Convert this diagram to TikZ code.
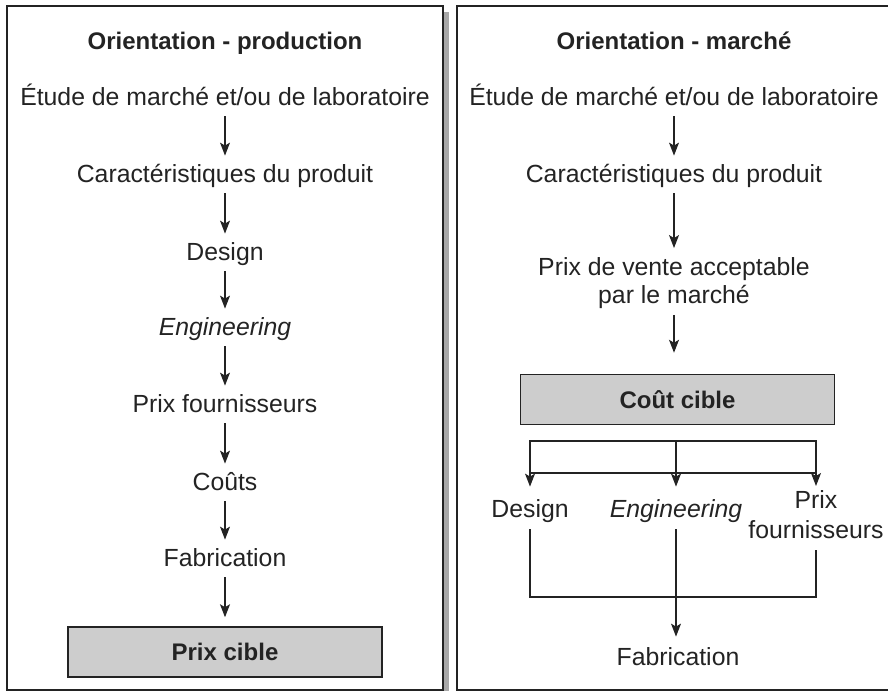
\documentclass[tikz,border=0pt]{standalone}
\usepackage{fontspec}
\setmainfont{Liberation Sans}
\usetikzlibrary{positioning,arrows.meta,calc}
\definecolor{inkgray}{RGB}{35,35,35}
\definecolor{boxgray}{RGB}{205,205,205}
\definecolor{shadowgray}{RGB}{168,168,168}

\begin{document}
\begin{tikzpicture}[x=0.5pt,y=-0.5pt,
  every node/.style={font=\fontsize{12.4}{15}\selectfont, text=inkgray, inner sep=0pt},
  stage/.style={anchor=base, text height=8.5pt, text depth=2.5pt},
  heading/.style={anchor=base, font=\fontsize{12}{15}\selectfont\bfseries},
  target/.style={draw=inkgray, line width=0.75pt, fill=boxgray, minimum width=157pt, minimum height=25pt, font=\fontsize{12}{15}\selectfont\bfseries},
  flow/.style={draw=inkgray, line width=0.6pt, -{Stealth[length=6.5pt,width=5pt,inset=1.5pt]}, shorten <=3pt, shorten >=4.5pt},
  link/.style={draw=inkgray, line width=0.6pt},
  panel/.style={draw=inkgray, line width=1pt}
]
  \useasboundingbox (0,0) rectangle (888,691);

  % panels
  \fill[shadowgray] (443,12) rectangle (449,691);
  \draw[panel] (7,6) rectangle (443,690);
  \draw[panel] (890,6) -- (457,6) -- (457,690) -- (890,690);

  % production side
  \node[heading] (pt) at (225,49) {Orientation - production};
  \node[stage] (pe) at (225,105) {Étude de marché et/ou de laboratoire};
  \node[stage] (pc) at (225,182) {Caractéristiques du produit};
  \node[stage] (pd) at (225,260) {Design};
  \node[stage] (pg) at (225,335) {\itshape Engineering};
  \node[stage] (pf) at (225,412) {Prix fournisseurs};
  \node[stage] (pk) at (225,490) {Coûts};
  \node[stage] (pb) at (225,566) {Fabrication};
  \node[target] (pp) at (225,652) {Prix cible};

  \draw[flow] (pe) -- (pc);
  \draw[flow] (pc) -- (pd);
  \draw[flow] (pd) -- (pg);
  \draw[flow] (pg) -- (pf);
  \draw[flow] (pf) -- (pk);
  \draw[flow] (pk) -- (pb);
  \draw[flow] (pb) -- (pp);

  % market side
  \node[heading] (mt) at (674,49) {Orientation - marché};
  \node[stage] (me) at (674,105) {Étude de marché et/ou de laboratoire};
  \node[stage] (mc) at (674,182) {Caractéristiques du produit};
  \node[align=center, font=\fontsize{12.4}{14}\selectfont] (mv) at (674,283) {Prix de vente acceptable\\par le marché};
  \node[target] (mk) at (677.5,399.5) {Coût cible};

  \draw[flow] (me) -- (mc);
  \draw[flow] (mc) -- (mv);
  \draw[flow, shorten >=10.5pt] (mv) -- (mv |- mk.north);

  \node[stage] (md) at (530,517) {Design};
  \node[stage] (mg) at (676,517) {\itshape Engineering};
  \node[align=center] (ms) at (816,514.5) {Prix\\fournisseurs};
  \node[stage] (mb) at (678,665) {Fabrication};

  \coordinate (bt) at (0,441);
  \coordinate (bb) at (0,473);
  \coordinate (jl) at (530,597);

  \draw[link] (md |- bt) rectangle (ms |- bb);
  \draw[link] (mg |- bt) -- (mg |- bb);
  \draw[flow, shorten <=0pt, shorten >=6.5pt] (md |- bb) -- (md);
  \draw[flow, shorten <=0pt, shorten >=6.5pt] (mg |- bb) -- (mg);
  \draw[flow, shorten <=0pt, shorten >=2pt] (ms |- bb) -- (ms);

  \draw[link, shorten <=3.5pt, shorten >=5.5pt] (md) -- (jl) -- (jl -| ms) -- (ms);
  \draw[flow, shorten <=3.5pt, shorten >=5.5pt] (mg) -- (mg |- mb.north);
\end{tikzpicture}
\end{document}
